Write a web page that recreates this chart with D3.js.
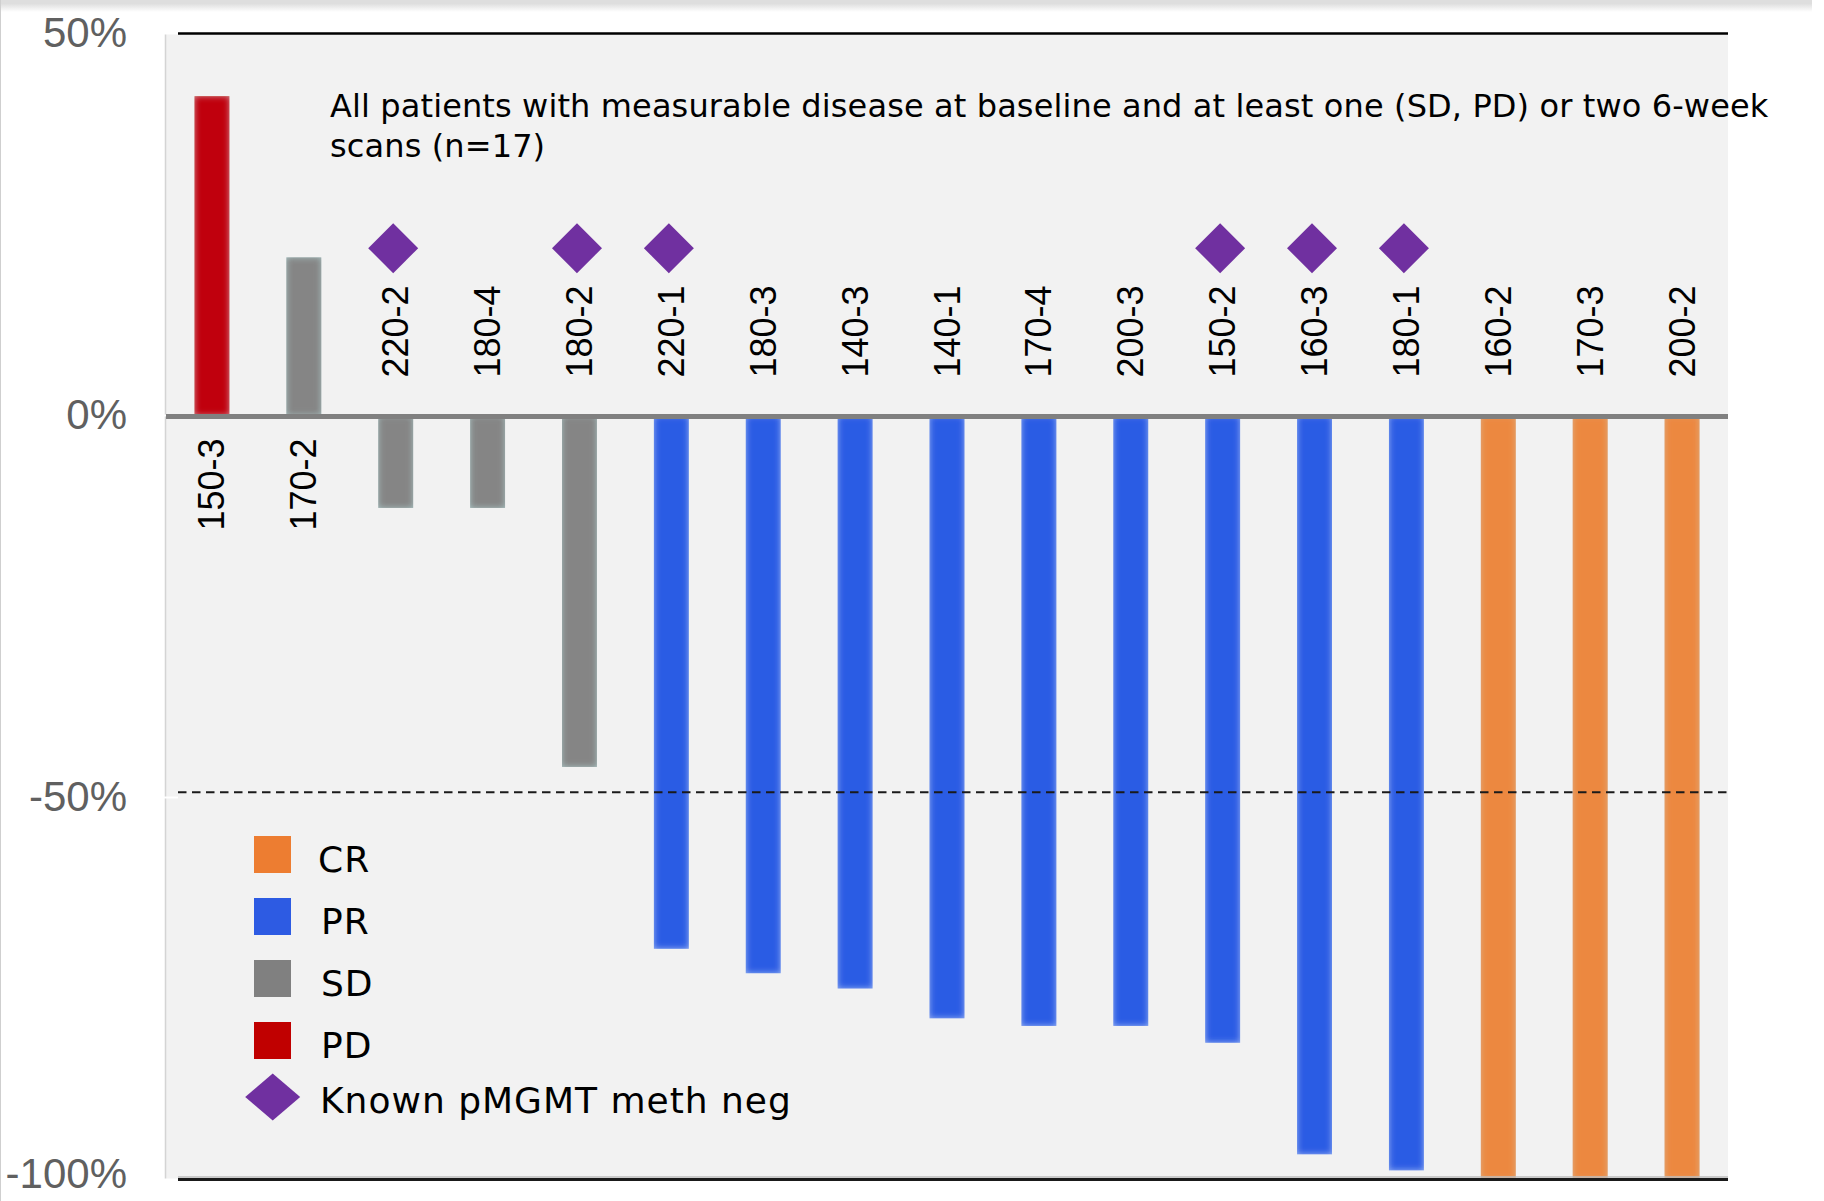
<!DOCTYPE html>
<html>
<head>
<meta charset="utf-8">
<script src="https://cdn.jsdelivr.net/npm/d3@7"></script>
<style>
  html, body { margin: 0; padding: 0; background: #ffffff; }
  svg { display: block; }
</style>
</head>
<body>
<script>
// ---------------- data ----------------
const categories = ["150-3","170-2","220-2","180-4","180-2","220-1","180-3","140-3","140-1","170-4","200-3","150-2","160-3","180-1","160-2","170-3","200-2"];
const changes    = [41.8, 20.7, -12.1, -12.1, -46.0, -69.8, -73.0, -75.0, -78.9, -79.9, -79.9, -82.1, -96.7, -98.8, -100, -100, -100];
const responses  = ["PD","SD","SD","SD","SD","PR","PR","PR","PR","PR","PR","PR","PR","PR","CR","CR","CR"];
const methNeg    = ["220-2","180-2","220-1","150-2","160-3","180-1"];
const markerLevel = 21.9;
const thresholdLevel = -49.3;
const yTicks = [50, 0, -50, -100];
const legendLabels = ["CR","PR","SD","PD"];
const markerLabel = "Known pMGMT meth neg";
const titleLines = ["All patients with measurable disease at baseline and at least one (SD, PD) or two 6-week", "scans (n=17)"];

// ---------------- styles ----------------
const colors = { CR: "#ED7D31", PR: "#2D5BE3", SD: "#808080", PD: "#C00000" };
const barColors = { CR: "#EC8840", PR: "#2C5BE4", SD: "#858585", PD: "#C00008" };
const edgeColors = { CR: "#DDB088", PR: "#9DB6F2", SD: "#A9C3C3", PD: "#D09090" };
const markerColor = "#7030A0";

const W = 1824, H = 1201;
const pLeft = 166, pRight = 1728, pTop = 33.5, pBottom = 1179.5;

const svg = d3.select("body").append("svg").attr("width", W).attr("height", H);
const defs = svg.append("defs");
const f = defs.append("filter").attr("id", "soft").attr("x", "-20%").attr("y", "-5%").attr("width", "140%").attr("height", "110%");
f.append("feGaussianBlur").attr("in", "SourceGraphic").attr("stdDeviation", 3.2).attr("result", "b");
f.append("feComposite").attr("in", "b").attr("in2", "SourceAlpha").attr("operator", "in");

const sh = defs.append("linearGradient").attr("id", "shadow").attr("x1", 0).attr("y1", 0).attr("x2", 0).attr("y2", 1);
sh.append("stop").attr("offset", 0).attr("stop-color", "#d0d0d0");
sh.append("stop").attr("offset", 1).attr("stop-color", "#ffffff");

// page frame
svg.append("rect").attr("x", 0).attr("y", 0).attr("width", 1812).attr("height", 12).attr("fill", "url(#shadow)");
svg.append("rect").attr("x", 0).attr("y", 0).attr("width", 1812).attr("height", 3).attr("fill", "#dedede");
svg.append("line").attr("x1", 0.5).attr("x2", 0.5).attr("y1", 0).attr("y2", H).attr("stroke", "#cfcfcf");

// scales
const x = d3.scaleBand().domain(categories).range([pLeft, pRight]).paddingInner(0.62).paddingOuter(0.31);
const y = d3.scaleLinear().domain([-100, 50]).range([pBottom, pTop]);

// panel
svg.append("rect").attr("x", pLeft).attr("y", y(50)).attr("width", pRight - pLeft).attr("height", y(-100) - y(50)).attr("fill", "#F2F2F2");
svg.append("line").attr("x1", pLeft - 0.5).attr("x2", pLeft - 0.5).attr("y1", y(50)).attr("y2", y(-100)).attr("stroke", "#d4d4d4").attr("stroke-width", 1.5);

// y axis labels
const yAxis = d3.axisLeft(y).tickValues(yTicks).tickSize(0).tickPadding(39).tickFormat(d => d + "%");
const ga = svg.append("g").attr("transform", `translate(${pLeft},0)`).call(yAxis);
ga.select(".domain").remove();
ga.selectAll("text").attr("fill", "#606060").style("font-family", "'Liberation Sans', Arial, sans-serif").style("font-size", "42px");
ga.selectAll(".tick").filter(d => d === -100).select("text").attr("dy", "0.2em");

// top frame line
svg.append("line").attr("x1", 178).attr("x2", pRight).attr("y1", y(50)).attr("y2", y(50)).attr("stroke", "#000").attr("stroke-width", 2.5);
// white tick marks on left
yTicks.forEach(t => {
  svg.append("line").attr("x1", pLeft - 2).attr("x2", 178).attr("y1", y(t)).attr("y2", y(t)).attr("stroke", "#ffffff").attr("stroke-width", 2);
});

// bars
const data = categories.map((c, i) => ({ c, v: changes[i], r: responses[i] }));
const bars = svg.append("g");
data.forEach(d => {
  const y0 = y(Math.max(0, d.v)), y1 = y(Math.min(0, d.v));
  bars.append("rect").attr("x", x(d.c)).attr("y", y0).attr("width", x.bandwidth()).attr("height", y1 - y0).attr("fill", edgeColors[d.r]);
  bars.append("rect").attr("x", x(d.c)).attr("y", y0).attr("width", x.bandwidth()).attr("height", y1 - y0).attr("fill", barColors[d.r]).attr("filter", "url(#soft)");
});

// zero line
svg.append("line").attr("x1", pLeft).attr("x2", pRight).attr("y1", y(0) + 1).attr("y2", y(0) + 1).attr("stroke", "#808080").attr("stroke-width", 5);

// threshold dashed line
svg.append("line").attr("x1", 178).attr("x2", pRight).attr("y1", y(thresholdLevel)).attr("y2", y(thresholdLevel))
  .attr("stroke", "#1a1a1a").attr("stroke-width", 2).attr("stroke-dasharray", "8.5,5.5");

// bottom line
svg.append("line").attr("x1", 178).attr("x2", pRight).attr("y1", y(-100)).attr("y2", y(-100)).attr("stroke", "#1a1a1a").attr("stroke-width", 3);
svg.append("line").attr("x1", 178).attr("x2", pRight).attr("y1", y(-100) - 2.5).attr("y2", y(-100) - 2.5).attr("stroke", "#bdbdbd").attr("stroke-width", 1.5);

// category labels
const catFont = "'Liberation Sans', Arial, sans-serif";
data.forEach(d => {
  const cx = x(d.c) + x.bandwidth() / 2;
  const pos = d.v > 0;
  const ty = pos ? y(0) + 23 : y(0) - 38;
  svg.append("text")
    .attr("transform", `translate(${cx + 12.5},${ty}) rotate(-90)`)
    .attr("text-anchor", pos ? "end" : "start")
    .style("font-family", catFont).style("font-size", "36px").attr("fill", "#000")
    .text(d.c);
});

// markers
const diamond = d3.symbol().type(d3.symbolSquare).size(1250);
svg.append("g").selectAll("path").data(methNeg).join("path")
  .attr("d", diamond)
  .attr("transform", c => `translate(${x(c) + x.bandwidth() / 2 - 2.5},${y(markerLevel)}) rotate(45)`)
  .attr("fill", markerColor);

// title
const tFont = "'DejaVu Sans', Verdana, sans-serif";
const title = svg.append("text").attr("x", 330).attr("y", 117)
  .style("font-family", tFont).style("font-size", "32px").style("letter-spacing", "0.12px").attr("fill", "#000");
titleLines.forEach((t, i) => title.append("tspan").attr("x", 330).attr("dy", i === 0 ? 0 : 39.5).text(t));

// legend
const lg = svg.append("g");
legendLabels.forEach((l, i) => {
  const by = 872 + i * 62;
  lg.append("rect").attr("x", 254).attr("y", by - 36).attr("width", 37).attr("height", 37).attr("fill", colors[l]);
  lg.append("text").attr("x", l === "CR" ? 318 : 321).attr("y", by).style("font-family", tFont).style("font-size", "36px").style("letter-spacing", "1px").attr("fill", "#000").text(l);
});
lg.append("path").attr("d", diamond)
  .attr("transform", `translate(272.7,1097) scale(1.1,0.94) rotate(45)`).attr("fill", markerColor);
lg.append("text").attr("x", 320).attr("y", 1113).style("font-family", tFont).style("font-size", "36px").style("letter-spacing", "1px").attr("fill", "#000").text(markerLabel);
</script>
</body>
</html>
